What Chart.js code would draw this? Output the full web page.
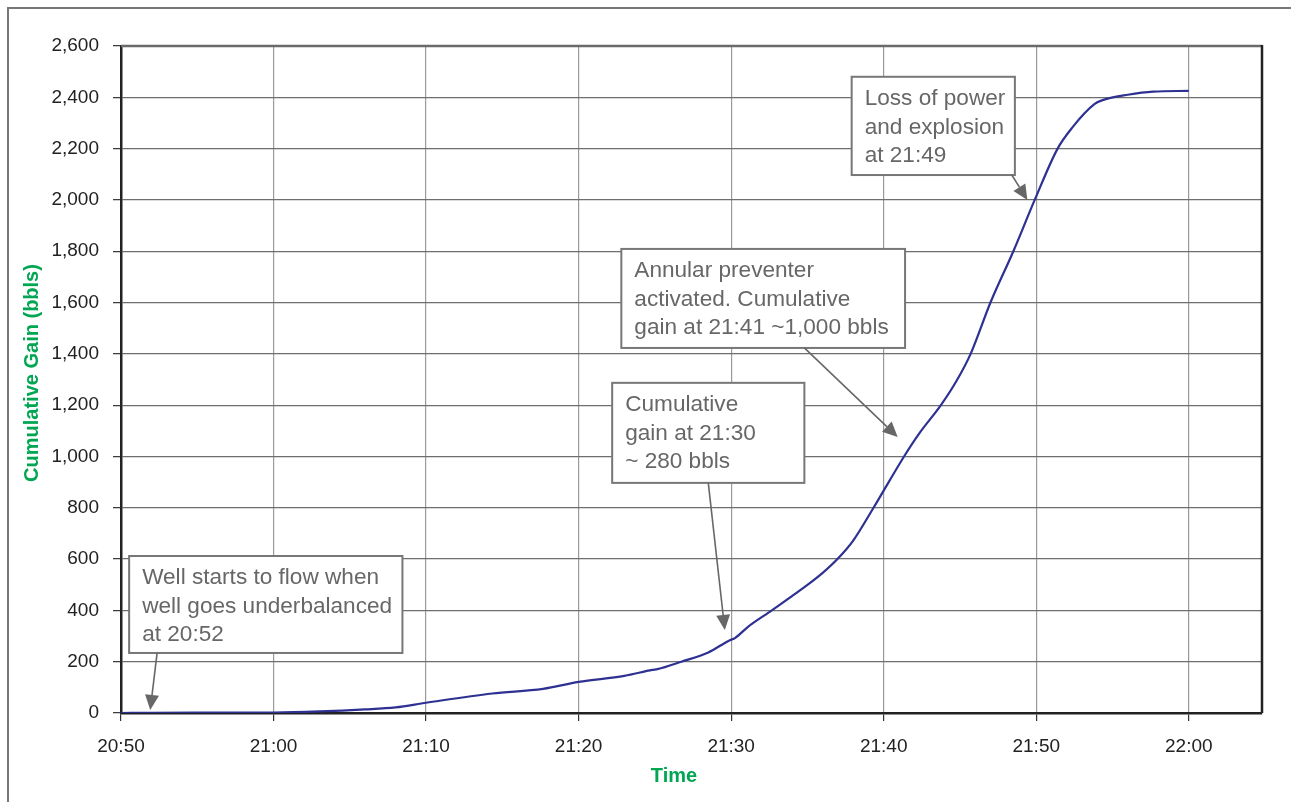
<!DOCTYPE html>
<html>
<head>
<meta charset="utf-8">
<script src="https://cdn.jsdelivr.net/npm/chart.js@4.4.0/dist/chart.umd.min.js"></script>
<style>
  html, body { margin: 0; padding: 0; background: #fff; }
  #wrap { width: 1291px; height: 802px; }
</style>
</head>
<body>
<div id="wrap"><canvas id="gainChart" width="1291" height="802"></canvas></div>
<script>
// Cumulative pit gain vs time
const timeLabels = [
    '20:50:00', '20:52:00', '21:00:00', '21:03:00', '21:06:00', '21:08:00', '21:10:00',
    '21:14:20', '21:17:40', '21:20:00', '21:23:00', '21:24:50', '21:25:10', '21:26:44',
    '21:28:30', '21:29:55', '21:30:15', '21:31:05', '21:32:40', '21:35:00', '21:36:00',
    '21:37:00', '21:38:00', '21:39:20', '21:41:20', '21:42:20', '21:43:45', '21:44:45',
    '21:45:42', '21:47:00', '21:48:30', '21:49:54', '21:51:24', '21:52:20', '21:53:50',
    '21:54:30', '21:56:00', '21:57:40', '22:00:00'
];
const gainValues = [
    0, 1, 2, 6, 14, 22, 40,
    76, 94, 121, 145, 168, 171, 200,
    236, 284, 292, 335, 400, 499, 546,
    602, 672, 800, 1000, 1090, 1200, 1292,
    1400, 1600, 1800, 2000, 2200, 2280, 2374,
    2392, 2410, 2422, 2425
];
const xTickLabels = ['20:50', '21:00', '21:10', '21:20', '21:30', '21:40', '21:50', '22:00'];
const xEnd = '22:04:48';
const yTickValues = [0, 200, 400, 600, 800, 1000, 1200, 1400, 1600, 1800, 2000, 2200, 2400, 2600];

// Callout texts and the point each arrow points at
const noteTexts = [
    ['Well starts to flow when', 'well goes underbalanced', 'at 20:52'],
    ['Cumulative', 'gain at 21:30', '~ 280 bbls'],
    ['Annular preventer', 'activated. Cumulative', 'gain at 21:41 ~1,000 bbls'],
    ['Loss of power', 'and explosion', 'at 21:49']
];
const noteTargets = [['20:51:55', 12], ['21:29:35', 324], ['21:40:55', 1076], ['21:49:25', 2000]];

// Callout placement (box corners and arrow start, in axis units)
const noteLayout = [
    { box: ['20:50:32', 612, '21:08:27', 234], from: ['20:52:22', 234] },
    { box: ['21:22:12', 1287, '21:34:48', 897], from: ['21:28:30', 897] },
    { box: ['21:22:48', 1809, '21:41:24', 1423], from: ['21:34:48', 1423] },
    { box: ['21:37:54', 2480, '21:48:36', 2097], from: ['21:48:24', 2097] }
];

function toMin(t) {
    const p = t.split(':').map(Number);
    return p[0] * 60 + p[1] + (p[2] || 0) / 60 - (20 * 60 + 50);
}
function fmtTime(m) {
    const total = 20 * 60 + 50 + Math.round(m);
    const h = Math.floor(total / 60), mm = total % 60;
    return h + ':' + String(mm).padStart(2, '0');
}

const points = timeLabels.map((t, i) => ({ x: toMin(t), y: gainValues[i] }));

const FONT = 'Liberation Sans, Arial, Helvetica, sans-serif';
const GREEN = '#00a651';
const NOTE_GREY = '#676767';

function drawArrow(ctx, x0, y0, x1, y1) {
    const ang = Math.atan2(y1 - y0, x1 - x0);
    const len = 15, half = 7;
    const bx = x1 - Math.cos(ang) * len, by = y1 - Math.sin(ang) * len;
    ctx.strokeStyle = NOTE_GREY;
    ctx.lineWidth = 1.6;
    ctx.beginPath();
    ctx.moveTo(x0, y0);
    ctx.lineTo(bx, by);
    ctx.stroke();
    ctx.fillStyle = NOTE_GREY;
    ctx.beginPath();
    ctx.moveTo(x1, y1);
    ctx.lineTo(bx - Math.sin(ang) * half, by + Math.cos(ang) * half);
    ctx.lineTo(bx + Math.sin(ang) * half, by - Math.cos(ang) * half);
    ctx.closePath();
    ctx.fill();
}

const decorPlugin = {
    id: 'decor',
    beforeDraw(chart) {
        const ctx = chart.ctx;
        ctx.save();
        ctx.fillStyle = '#fff';
        ctx.fillRect(0, 0, chart.width, chart.height);
        // outer frame (top and left only, like the cropped source)
        ctx.strokeStyle = '#777';
        ctx.lineWidth = 2;
        ctx.beginPath();
        ctx.moveTo(8, chart.height);
        ctx.lineTo(8, 8);
        ctx.lineTo(chart.width, 8);
        ctx.stroke();
        ctx.restore();
    },
    afterDraw(chart) {
        const ctx = chart.ctx;
        const xs = chart.scales.x, ys = chart.scales.y;
        const a = chart.chartArea;
        ctx.save();
        // plot frame: grey top, black right
        ctx.lineWidth = 2.5;
        ctx.strokeStyle = '#6a6a6a';
        ctx.beginPath();
        ctx.moveTo(a.left, a.top);
        ctx.lineTo(a.right, a.top);
        ctx.stroke();
        ctx.strokeStyle = '#222';
        ctx.beginPath();
        ctx.moveTo(a.right, a.top - 1);
        ctx.lineTo(a.right, a.bottom);
        ctx.stroke();

        // axis titles
        ctx.fillStyle = GREEN;
        ctx.font = 'bold 20px ' + FONT;
        ctx.textAlign = 'center';
        ctx.textBaseline = 'middle';
        ctx.fillText('Time', 674, 776);
        ctx.translate(32, 373);
        ctx.rotate(-Math.PI / 2);
        ctx.fillText('Cumulative Gain (bbls)', 0, 0);
        ctx.restore();

        // callouts
        ctx.save();
        noteTexts.forEach((lines, i) => {
            const lay = noteLayout[i];
            const x0 = xs.getPixelForValue(toMin(lay.box[0]));
            const y0 = ys.getPixelForValue(lay.box[1]);
            const x1 = xs.getPixelForValue(toMin(lay.box[2]));
            const y1 = ys.getPixelForValue(lay.box[3]);
            ctx.fillStyle = '#fff';
            ctx.fillRect(x0, y0, x1 - x0, y1 - y0);
            ctx.strokeStyle = '#777';
            ctx.lineWidth = 2;
            ctx.strokeRect(x0, y0, x1 - x0, y1 - y0);
            ctx.fillStyle = NOTE_GREY;
            ctx.font = '22.6px ' + FONT;
            ctx.textAlign = 'left';
            ctx.textBaseline = 'alphabetic';
            lines.forEach((ln, k) => ctx.fillText(ln, x0 + 13, y0 + 28.5 + k * 28.3));
            const fx = xs.getPixelForValue(toMin(lay.from[0]));
            const fy = ys.getPixelForValue(lay.from[1]);
            const tx = xs.getPixelForValue(toMin(noteTargets[i][0]));
            const ty = ys.getPixelForValue(noteTargets[i][1]);
            drawArrow(ctx, fx, fy, tx, ty);
        });
        ctx.restore();
    }
};

new Chart(document.getElementById('gainChart'), {
    type: 'line',
    data: {
        datasets: [{
            label: 'Cumulative Gain',
            data: points,
            borderColor: '#2e3192',
            borderWidth: 2.2,
            pointRadius: 0,
            cubicInterpolationMode: 'monotone',
            fill: false
        }]
    },
    options: {
        responsive: false,
        animation: false,
        devicePixelRatio: 1,
        layout: { padding: { left: 0, top: 46, right: 29, bottom: 0 } },
        plugins: {
            legend: { display: false },
            tooltip: { enabled: false }
        },
        scales: {
            x: {
                type: 'linear',
                min: toMin(xTickLabels[0]),
                max: toMin(xEnd),
                afterFit: s => { s.height = 89; },
                afterBuildTicks: s => { s.ticks = xTickLabels.map(t => ({ value: toMin(t) })); },
                border: { display: true, color: '#222', width: 2.5 },
                grid: { color: '#9a9a9a', lineWidth: 1.2, tickLength: 8, tickColor: '#333', tickWidth: 1.2 },
                ticks: {
                    autoSkip: false,
                    maxRotation: 0,
                    padding: 14,
                    color: '#222',
                    font: { family: FONT, size: 19 },
                    callback: v => fmtTime(v)
                }
            },
            y: {
                min: yTickValues[0],
                max: yTickValues[yTickValues.length - 1],
                afterFit: s => { s.width = 121; },
                afterBuildTicks: s => { s.ticks = yTickValues.map(v => ({ value: v })); },
                border: { display: true, color: '#222', width: 2.5 },
                grid: { color: '#6e6e6e', lineWidth: 1.3, tickLength: 8, tickColor: '#333', tickWidth: 1.2 },
                ticks: {
                    padding: 14,
                    color: '#222',
                    font: { family: FONT, size: 19 },
                    callback: v => v.toLocaleString('en-US')
                }
            }
        }
    },
    plugins: [decorPlugin]
});
</script>
</body>
</html>
